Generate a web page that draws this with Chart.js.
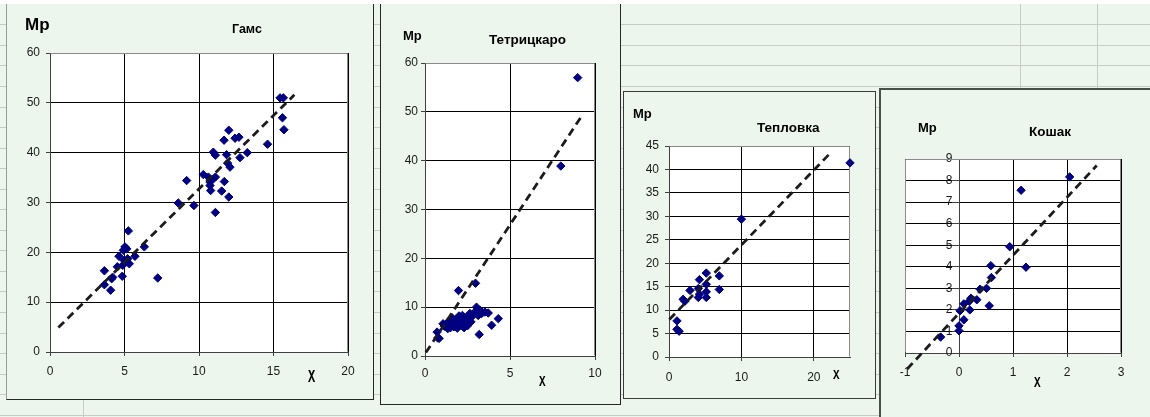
<!DOCTYPE html>
<html><head><meta charset="utf-8">
<script src="https://cdn.jsdelivr.net/npm/chart.js@4.4.1/dist/chart.umd.min.js"></script>
<style>
html,body{margin:0;padding:0;}
body{width:1150px;height:417px;overflow:hidden;position:relative;background:#ECF6EC;font-family:"Liberation Sans",Arial,sans-serif;}
.topstrip{position:absolute;left:0;top:0;width:1150px;height:4px;background:#fff;z-index:10;}
.hl{position:absolute;left:0;width:1150px;height:1px;background:#C8CCC8;}
.vl{position:absolute;top:4px;width:1px;height:413px;background:#C8CCC8;}
.frame{position:absolute;box-sizing:border-box;border:1px solid #262626;background:#ECF6EC;}
canvas{position:absolute;}
.lbl{position:absolute;font-weight:bold;line-height:1;white-space:nowrap;color:#000;z-index:5;}
.xl{position:absolute;font-family:"Liberation Mono",monospace;font-weight:bold;font-size:11px;line-height:1;transform-origin:0 0;color:#000;z-index:5;}
</style></head>
<body>
<div class="topstrip"></div>
<div id="sheet"></div>
<div class="frame" style="left:6px;top:-10px;width:368px;height:410px;border-left-color:#9a9a9a;"></div>
<div class="frame" style="left:380px;top:-10px;width:241px;height:415px;"></div>
<div class="frame" style="left:623px;top:91px;width:253px;height:308px;border-color:#3a3a3a;"></div>
<div class="frame" style="left:879px;top:88px;width:290px;height:340px;border:2px solid #4a4f4a;"></div>

<canvas id="c1" width="366" height="399" style="left:7px;top:0px;width:366px;height:399px;"></canvas>
<canvas id="c2" width="239" height="404" style="left:381px;top:0px;width:239px;height:404px;"></canvas>
<canvas id="c3" width="251" height="306" style="left:624px;top:92px;width:251px;height:306px;"></canvas>
<canvas id="c4" width="270" height="328" style="left:880px;top:89px;width:270px;height:328px;"></canvas>

<div class="lbl" style="left:25px;top:15.8px;font-size:17px;">Mp</div>
<div class="lbl" style="left:232px;top:23.4px;font-size:12.5px;">Гамс</div>
<div class="xl" style="left:308px;top:368px;transform:scaleY(1.6);font-size:12px;">X</div>

<div class="lbl" style="left:403px;top:29.3px;font-size:13px;">Mp</div>
<div class="lbl" style="left:489px;top:33.2px;font-size:13.5px;">Тетрицкаро</div>
<div class="xl" style="left:539px;top:375px;transform:scaleY(1.4);">X</div>

<div class="lbl" style="left:633px;top:107.3px;font-size:13px;">Mp</div>
<div class="lbl" style="left:757px;top:121.2px;font-size:13.5px;">Тепловка</div>
<div class="xl" style="left:833px;top:370px;transform:scaleY(1.1);">X</div>

<div class="lbl" style="left:918px;top:121.3px;font-size:13px;">Mp</div>
<div class="lbl" style="left:1029px;top:125.2px;font-size:13.5px;">Кошак</div>
<div class="xl" style="left:1034px;top:377px;transform:scaleY(1.3);">X</div>

<script>
// ---------- DATA ----------
// Гамс
const gamsX = [3.65,3.65,4.14,4.2,4.07,4.52,4.63,4.85,4.92,5.03,5.15,4.97,5.26,5.21,5.32,5.7,4.88,6.33,7.23,
  8.61,9.17,9.66,10.29,10.63,10.74,10.74,10.78,10.9,10.96,11.1,11.1,11.1,11.52,11.68,11.7,11.85,11.92,12.0,12.0,12.08,
  12.42,12.68,12.75,13.24,14.6,15.44,15.66,15.6,15.7];
const gamsY = [16.3,13.5,14.7,15.0,12.4,17.1,19.2,15.2,20.4,21.1,20.7,18.4,24.3,18.7,17.7,19.2,17.4,21.1,14.85,
  29.9,34.4,29.4,35.6,35.1,34.1,33.4,32.4,34.6,40.1,39.5,35.1,28.0,32.3,42.5,34.2,39.6,37.9,44.5,31.1,37.1,
  42.9,43.1,39.0,40.0,41.7,51.0,51.0,47.0,44.6];
const gamsTrendX = [0.56, 16.4];
const gamsTrendY = [4.9, 51.6];
const gamsXTicks = [0,5,10,15,20];
const gamsYTicks = [0,10,20,30,40,50,60];

// Тетрицкаро
const tetrX = [8.98,7.99,1.97,2.97,0.71,0.75,0.83,1.14,1.34,1.06,1.36,1.56,1.65,1.85,1.95,2.05,2.15,2.25,2.34,2.44,2.54,2.64,2.74,
  3.03,3.23,3.33,3.52,3.72,3.92,4.31,3.19,2.93,3.13,1.5,1.7,1.8,1.9,2.0,2.1,2.2,2.3,2.4,2.5,2.6,2.7,1.6,2.0,2.2];
const tetrY = [57.0,38.9,13.4,14.9,4.9,3.7,3.6,6.1,5.6,6.6,7.0,6.3,7.3,7.6,6.6,8.0,7.0,6.0,7.85,6.8,7.5,8.7,8.0,
  10.0,9.4,8.7,9.0,8.8,6.3,7.65,4.4,9.0,8.3,5.8,6.0,7.0,5.7,7.2,6.3,7.6,5.8,7.2,6.2,7.8,7.0,7.8,8.2,8.3];
const tetrTrendX = [0.05, 9.15];
const tetrTrendY = [0.7, 48.8];
const tetrXTicks = [0,5,10];
const tetrYTicks = [0,10,20,30,40,50,60];

// Тепловка
const teplX = [25.0,10.0,1.1,1.1,1.4,1.95,2.2,2.9,4.2,4.05,4.05,4.2,5.15,5.15,5.15,5.15,6.95,6.95];
const teplY = [41.4,29.4,7.7,5.9,5.5,12.3,11.9,14.2,16.5,14.6,12.7,13.4,17.9,15.5,13.9,12.7,17.3,14.4];
const teplTrendX = [0.05, 22.1];
const teplTrendY = [8.0, 43.2];
const teplXTicks = [0,10,20];
const teplYTicks = [0,5,10,15,20,25,30,35,40,45];

// Кошак
const koshX = [2.05,1.15,0.94,1.24,0.59,0.6,0.51,0.56,0.39,0.33,0.22,0.2,0.09,0.09,0.02,0.0,0.0,-0.34,0.19];
const koshY = [8.17,7.55,4.93,3.98,4.05,3.5,3.0,2.19,2.96,2.47,2.54,2.0,2.28,1.54,1.96,1.26,1.03,0.74,2.4];
const koshTrendX = [-0.96, 2.55];
const koshTrendY = [-0.74, 8.7];
const koshXTicks = [-1,0,1,2,3];
const koshYTicks = [0,1,2,3,4,5,6,7,8,9];

// ---------- SHEET BACKGROUND ----------
(function(){
  const sheet = document.getElementById('sheet');
  for (let k = 0; k < 20; k++) {
    const d = document.createElement('div');
    d.className = 'hl';
    d.style.top = Math.round(24.3 + 20.55 * k) + 'px';
    sheet.appendChild(d);
  }
  [83, 1020, 1097].forEach(x => {
    const d = document.createElement('div');
    d.className = 'vl';
    d.style.left = x + 'px';
    sheet.appendChild(d);
  });
})();

// ---------- CHARTS ----------
const plotBg = {
  id: 'plotBg',
  beforeDraw(chart, args, o) {
    const {ctx, chartArea: a} = chart;
    ctx.save();
    ctx.fillStyle = '#FFFFFF';
    ctx.fillRect(a.left, a.top, a.right - a.left, a.bottom - a.top);
    ctx.restore();
  },
  beforeDatasetsDraw(chart, args, o) {
    const {ctx, chartArea: a} = chart;
    ctx.save();
    ctx.strokeStyle = '#8a8a8a';
    ctx.lineWidth = 1;
    ctx.beginPath();
    const L = Math.round(a.left) + 0.5, R = Math.round(a.right) - 0.5, T = Math.round(a.top) + 0.5, B = Math.round(a.bottom) - 0.5;
    ctx.moveTo(L, T); ctx.lineTo(R, T); ctx.lineTo(R, B);
    if (o && o.leftEdge) { ctx.moveTo(L, T); ctx.lineTo(L, B); }
    ctx.stroke();
    ctx.restore();
  }
};

function pts(xs, ys) { return xs.map((x, i) => ({x: x, y: ys[i]})); }

function makeChart(id, c) {
  const canvas = document.getElementById(id);
  const W = canvas.width, H = canvas.height;
  const tickFont = {family: 'Liberation Sans, Arial, sans-serif', size: 12};
  const yPos = c.yAtZero ? {x: 0} : 'left';
  new Chart(canvas, {
    type: 'scatter',
    data: {
      datasets: [
        {
          data: pts(c.trendX, c.trendY),
          showLine: true,
          borderColor: '#1c1c1c',
          borderWidth: 2.8,
          borderDash: [8, 5],
          pointRadius: 0,
          pointHoverRadius: 0,
          clip: false,
          order: 0
        },
        {
          data: pts(c.xs, c.ys),
          showLine: false,
          pointStyle: 'rectRot',
          pointRadius: 4.2,
          pointBorderWidth: 1,
          backgroundColor: '#000080',
          borderColor: '#000080',
          clip: false,
          order: 1
        }
      ]
    },
    options: {
      responsive: false,
      animation: false,
      devicePixelRatio: 1,
      layout: {padding: {left: c.yAtZero ? c.area.l : 0, top: c.area.t, right: W - c.area.r, bottom: 0}},
      plugins: {legend: {display: false}, tooltip: {enabled: false}, title: {display: false}, plotBg: {leftEdge: !!c.yAtZero}},
      scales: {
        x: {
          type: 'linear', position: 'bottom',
          min: c.xMin, max: c.xMax,
          afterBuildTicks: s => { s.ticks = c.xTicks.map(v => ({value: v})); },
          afterFit: s => { s.height = H - c.area.b; },
          ticks: {color: '#1a1a1a', font: tickFont, padding: c.xPad, maxRotation: 0, autoSkip: false},
          grid: {color: '#000000', lineWidth: 1, tickLength: 4, tickColor: '#404040'},
          border: {color: '#404040', width: 1}
        },
        y: {
          type: 'linear', position: yPos,
          min: c.yMin, max: c.yMax,
          afterBuildTicks: s => { s.ticks = c.yTicks.map(v => ({value: v})); },
          afterFit: s => { if (!c.yAtZero) s.width = c.area.l; },
          ticks: {color: '#1a1a1a', font: tickFont, padding: c.yPad, autoSkip: false,
                  callback: v => c.yAtZero ? String(v) + '  ' : String(v)},
          grid: {color: '#000000', lineWidth: 1, tickLength: c.yTick || 4, tickColor: '#404040'},
          border: {color: '#404040', width: 1}
        }
      }
    },
    plugins: [plotBg]
  });
}

makeChart('c1', {xs: gamsX, ys: gamsY, trendX: gamsTrendX, trendY: gamsTrendY,
  xMin: 0, xMax: 20, yMin: 0, yMax: 60, xTicks: gamsXTicks, yTicks: gamsYTicks,
  area: {l: 43, t: 53, r: 341, b: 352}, xPad: 8, yPad: 6});

makeChart('c2', {xs: tetrX, ys: tetrY, trendX: tetrTrendX, trendY: tetrTrendY,
  xMin: 0, xMax: 10, yMin: 0, yMax: 60, xTicks: tetrXTicks, yTicks: tetrYTicks,
  area: {l: 44, t: 63, r: 214, b: 356}, xPad: 6, yPad: 3});

makeChart('c3', {xs: teplX, ys: teplY, trendX: teplTrendX, trendY: teplTrendY,
  xMin: 0, xMax: 25, yMin: 0, yMax: 45, xTicks: teplXTicks, yTicks: teplYTicks,
  area: {l: 45, t: 54, r: 226, b: 265}, xPad: 9, yPad: 6});

makeChart('c4', {xs: koshX, ys: koshY, trendX: koshTrendX, trendY: koshTrendY,
  xMin: -1, xMax: 3, yMin: 0, yMax: 9, xTicks: koshXTicks, yTicks: koshYTicks,
  area: {l: 25, t: 70, r: 241, b: 264}, xPad: 8, yPad: 3, yAtZero: true, yTick: 7});
</script>
</body></html>
